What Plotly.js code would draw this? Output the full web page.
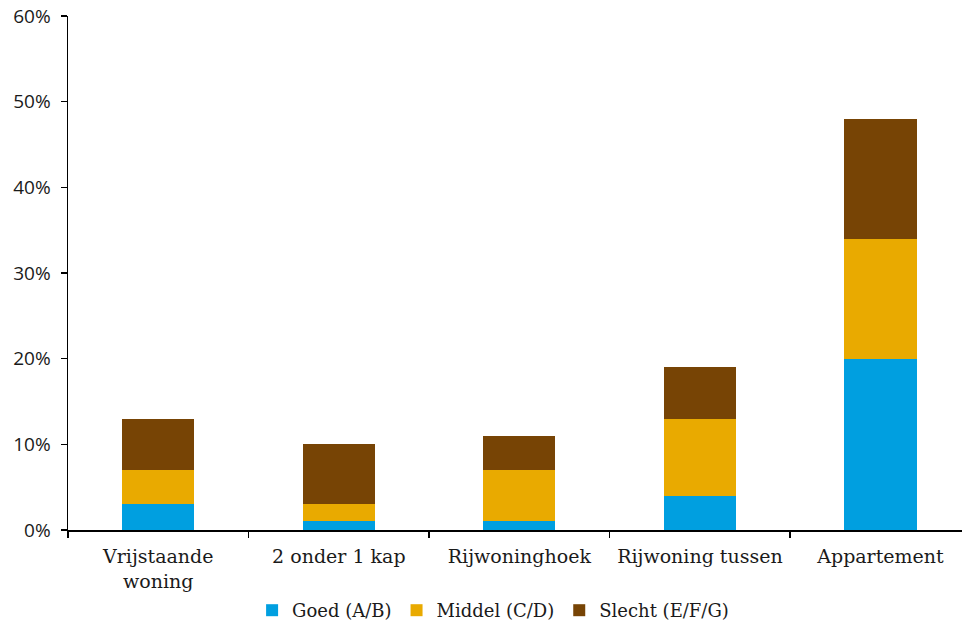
<!DOCTYPE html>
<html>
<head>
<meta charset="utf-8">
<script src="https://cdn.plot.ly/plotly-3.0.1.min.js"></script>
<style>html,body{margin:0;padding:0;background:#fff;}#chart{width:962px;height:629px;}</style>
</head>
<body>
<div id="chart"></div>
<script>
const categories = ["Vrijstaande<br>woning", "2 onder 1 kap", "Rijwoninghoek", "Rijwoning tussen", "Appartement"];
const goed = [0.03, 0.01, 0.01, 0.04, 0.20];
const middel = [0.04, 0.02, 0.06, 0.09, 0.14];
const slecht = [0.06, 0.07, 0.04, 0.06, 0.14];
const seriesNames = ["Goed (A/B)", "Middel (C/D)", "Slecht (E/F/G)"];
const colors = ["#009FE0", "#E9AA00", "#774405"];
const yTicks = [0, 0.1, 0.2, 0.3, 0.4, 0.5, 0.6];
const yTickLabels = ["0%", "10%", "20%", "30%", "40%", "50%", "60%"];

const serif = "DejaVu Serif, Liberation Serif, serif";
const sans = "Open Sans, DejaVu Sans, sans-serif";

const traces = [goed, middel, slecht].map((vals, i) => ({
  type: "bar",
  x: categories,
  y: vals,
  name: seriesNames[i],
  marker: {color: colors[i], line: {width: 0}},
  hoverinfo: "skip"
}));

const layout = {
  width: 962, height: 629,
  margin: {l: 68, r: 0, t: 16, b: 98},
  barmode: "stack",
  bargap: 0.6,
  paper_bgcolor: "#fff",
  plot_bgcolor: "#fff",
  showlegend: true,
  legend: {
    orientation: "h", x: 0.4755, xanchor: "center", y: -0.157, yanchor: "middle",
    font: {family: serif, size: 18, color: "#1a1a1a"},
    traceorder: "normal", itemwidth: 30
  },
  xaxis: {
    type: "category",
    range: [-0.5, 4.4515],
    showgrid: false, zeroline: false,
    showline: true, linecolor: "#000", linewidth: 1.5,
    ticks: "outside", ticklen: 6, tickcolor: "#000", tickwidth: 1.5,
    tickson: "boundaries",
    ticklabelstandoff: 9,
    tickfont: {family: serif, size: 19, color: "#1a1a1a"}
  },
  yaxis: {
    range: [0, 0.6],
    tickvals: yTicks, ticktext: yTickLabels,
    showgrid: false, zeroline: false,
    showline: true, linecolor: "#000", linewidth: 1.5,
    ticks: "outside", ticklen: 6, tickcolor: "#000", tickwidth: 1.5,
    ticklabelstandoff: 6,
    tickfont: {family: sans, size: 19, color: "#1a1a1a"}
  }
};

Plotly.newPlot("chart", traces, layout, {displayModeBar: false, staticPlot: true});
</script>
</body>
</html>
